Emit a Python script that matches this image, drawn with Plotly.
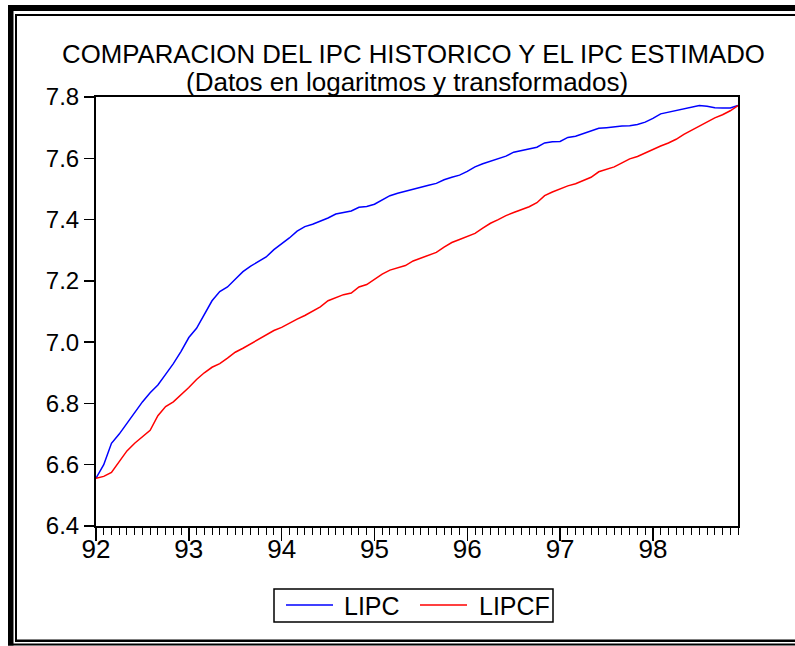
import plotly.graph_objects as go

# ---------------- data (monthly, 1992M01 - 1998M12) ----------------
start_year = 92
n_months = 84
lipc = [
    6.556, 6.600, 6.670, 6.700, 6.735, 6.770, 6.805, 6.835, 6.860, 6.895, 6.930, 6.970,
    7.015, 7.045, 7.090, 7.135, 7.165, 7.180, 7.205, 7.230, 7.248, 7.263, 7.278, 7.302,
    7.320, 7.340, 7.362, 7.377, 7.385, 7.395, 7.405, 7.418, 7.422, 7.428, 7.440, 7.443,
    7.450, 7.465, 7.478, 7.486, 7.493, 7.500, 7.505, 7.512, 7.518, 7.530, 7.538, 7.545,
    7.557, 7.572, 7.582, 7.590, 7.598, 7.607, 7.620, 7.625, 7.630, 7.636, 7.650, 7.654,
    7.655, 7.668, 7.672, 7.680, 7.690, 7.698, 7.700, 7.703, 7.705, 7.706, 7.710, 7.718,
    7.730, 7.745, 7.750, 7.756, 7.762, 7.767, 7.772, 7.770, 7.765, 7.764, 7.764, 7.772,
]
lipcf = [
    6.556, 6.562, 6.575, 6.612, 6.645, 6.670, 6.690, 6.712, 6.760, 6.790, 6.805, 6.828,
    6.852, 6.878, 6.900, 6.918, 6.930, 6.948, 6.967, 6.980, 6.995, 7.010, 7.025, 7.038,
    7.048, 7.062, 7.075, 7.087, 7.100, 7.115, 7.135, 7.145, 7.155, 7.160, 7.180, 7.188,
    7.205, 7.222, 7.235, 7.242, 7.250, 7.265, 7.275, 7.283, 7.293, 7.310, 7.325, 7.335,
    7.345, 7.355, 7.372, 7.388, 7.400, 7.413, 7.423, 7.433, 7.442, 7.455, 7.478, 7.490,
    7.500, 7.510, 7.517, 7.528, 7.538, 7.556, 7.565, 7.572, 7.585, 7.598, 7.606, 7.618,
    7.630, 7.640, 7.650, 7.662, 7.678, 7.692, 7.705, 7.720, 7.732, 7.742, 7.755, 7.772,
]
series_names = ["LIPC", "LIPCF"]
series_colors = ["#0000FF", "#FF0000"]
year_ticks = [92, 93, 94, 95, 96, 97, 98]
year_labels = ["92", "93", "94", "95", "96", "97", "98"]
y_ticks = [6.4, 6.6, 6.8, 7.0, 7.2, 7.4, 7.6, 7.8]
y_labels = ["6.4", "6.6", "6.8", "7.0", "7.2", "7.4", "7.6", "7.8"]

t = [start_year + i / 12 for i in range(n_months)]

# ---------------- layout geometry (pixels) ----------------
W, H = 795, 646
L, R, T, B = 96, 738, 97, 526


def px(x):
    return (x - L) / (R - L)


def py(y):
    return (B - y) / (B - T)


FONT = "Liberation Sans, Arial, sans-serif"

fig = go.Figure()
for name, col, vals in zip(series_names, series_colors, [lipc, lipcf]):
    fig.add_trace(go.Scatter(x=t, y=vals, mode="lines", name=name,
                             line=dict(color=col, width=1.5), showlegend=False))

shapes = []


def rect(x0, y0, x1, y1, fill="black", lw=0):
    shapes.append(dict(type="rect", xref="paper", yref="paper",
                       x0=px(x0), x1=px(x1), y0=py(y1), y1=py(y0),
                       fillcolor=fill, line=dict(width=lw, color="black"),
                       layer="above"))


def hline(x0, x1, y, color, width=1.5):
    shapes.append(dict(type="line", xref="paper", yref="paper",
                       x0=px(x0), x1=px(x1), y0=py(y), y1=py(y),
                       line=dict(color=color, width=width), layer="above"))


# outer double frame (left, top, bottom)
rect(8, 5, 13.5, 645.5)
rect(15, 14, 17, 641.5)
rect(8, 5, 795, 11)
rect(15, 14, 795, 16)
rect(15, 639.5, 795, 642)
rect(8, 643.5, 795, 645.5)

# legend box
shapes.append(dict(type="rect", xref="paper", yref="paper",
                   x0=px(274), x1=px(553), y0=py(622), y1=py(589),
                   fillcolor="rgba(0,0,0,0)", line=dict(width=1.5, color="black"),
                   layer="above"))
legend_y = 605
legend_line_x = [(286, 333), (420, 467)]
legend_text_x = [342, 477]
annotations = []
for name, col, (lx0, lx1), tx in zip(series_names, series_colors, legend_line_x, legend_text_x):
    hline(lx0, lx1, legend_y, col, 1.5)
    annotations.append(dict(text=name, xref="paper", yref="paper", x=px(tx), y=py(legend_y + 1),
                            xanchor="left", yanchor="middle", showarrow=False,
                            font=dict(family=FONT, size=25, color="black")))

annotations += [
    dict(text="COMPARACION DEL IPC HISTORICO Y EL IPC ESTIMADO",
         xref="paper", yref="paper", x=px(413), y=py(54),
         xanchor="center", yanchor="middle", showarrow=False,
         font=dict(family=FONT, size=25.8, color="black")),
    dict(text="(Datos en logaritmos y transformados)",
         xref="paper", yref="paper", x=px(407), y=py(82),
         xanchor="center", yanchor="middle", showarrow=False,
         font=dict(family=FONT, size=26, color="black")),
]

fig.update_layout(
    width=W, height=H, autosize=False,
    margin=dict(l=L, r=W - R, t=T, b=H - B, pad=0),
    paper_bgcolor="white", plot_bgcolor="white",
    showlegend=False,
    xaxis=dict(range=[start_year, start_year + (n_months - 1) / 12],
               tickvals=year_ticks, ticktext=year_labels,
               ticks="outside", ticklen=13, tickwidth=1.5, tickcolor="black",
               minor=dict(dtick=1 / 12, tick0=start_year, ticks="outside", ticklen=7,
                          tickwidth=1, tickcolor="black", showgrid=False),
               showline=True, linewidth=2, linecolor="black", mirror=True,
               showgrid=False, zeroline=False, ticklabelstandoff=-14,
               tickfont=dict(family=FONT, size=26, color="black")),
    yaxis=dict(range=[6.4, 7.8], tickvals=y_ticks, ticktext=y_labels,
               ticks="outside", ticklen=10, tickwidth=1.5, tickcolor="black",
               showline=True, linewidth=2, linecolor="black", mirror=True,
               showgrid=False, zeroline=False,
               tickfont=dict(family=FONT, size=24, color="black")),
    shapes=shapes,
    annotations=annotations,
)

fig.write_html("out.html",
               config={"displayModeBar": False, "staticPlot": True},
               post_script="document.body.style.margin='0';document.body.style.overflow='hidden';")
